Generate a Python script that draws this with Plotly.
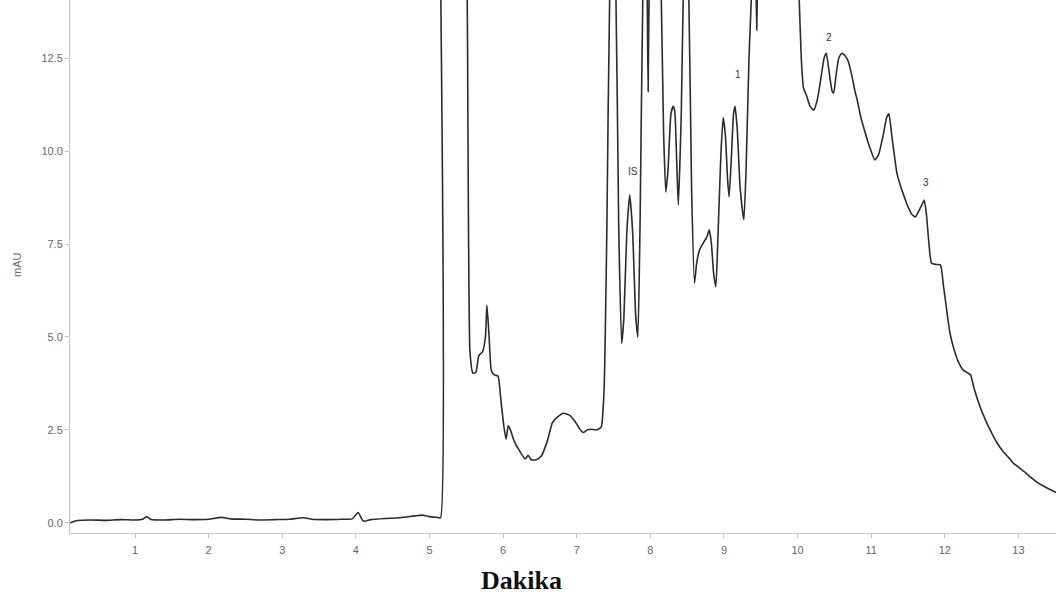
import plotly.graph_objects as go

# Retention time (minutes) and absorbance (mAU); values of 16 mark off-scale peak tops
time_min = [
    0.12, 0.2, 0.4, 0.6, 0.8, 1.0, 1.1, 1.16, 1.22, 1.4, 1.6, 1.8, 2.0, 2.18, 2.3, 2.5,
    2.7, 2.9, 3.1, 3.29, 3.4, 3.6, 3.8, 3.95, 4.03, 4.1, 4.2, 4.4, 4.6, 4.8, 4.9, 5.0,
    5.1, 5.15,
    5.152, 5.16, 5.48, 5.51, 5.55, 5.59, 5.63, 5.67, 5.72, 5.76, 5.78, 5.81, 5.84, 5.88, 5.93,
    5.97, 6.01, 6.04, 6.07, 6.10, 6.15, 6.22, 6.30, 6.34, 6.38, 6.45, 6.52, 6.60, 6.67,
    6.74, 6.82, 6.90, 6.97, 7.05, 7.09, 7.14, 7.20, 7.26, 7.33, 7.37, 7.41, 7.45, 7.49,
    7.53, 7.57, 7.61, 7.64, 7.68, 7.72, 7.76, 7.80, 7.83, 7.86, 7.90, 7.93, 7.955, 7.97,
    7.985, 8.02, 8.12, 8.145, 8.18, 8.21, 8.24, 8.28, 8.31, 8.33, 8.36, 8.38, 8.42, 8.45,
    8.485, 8.52, 8.56, 8.60, 8.63, 8.67, 8.72, 8.77, 8.80, 8.83, 8.86, 8.89, 8.92, 8.96,
    8.99, 9.02, 9.05, 9.07, 9.10, 9.13, 9.15, 9.18, 9.22, 9.27, 9.30, 9.34, 9.38, 9.41,
    9.435, 9.445, 9.455, 9.48, 9.98, 10.02, 10.05, 10.08, 10.12, 10.17, 10.22, 10.27,
    10.32, 10.36, 10.39, 10.43, 10.47, 10.49, 10.52, 10.56, 10.60, 10.65, 10.69, 10.74,
    10.78, 10.81, 10.86, 10.92, 10.98, 11.05, 11.10, 11.16, 11.21, 11.24, 11.28, 11.32,
    11.35, 11.40, 11.44, 11.50, 11.55, 11.60, 11.65, 11.70, 11.72, 11.75, 11.78, 11.82,
    11.88, 11.94, 11.98, 12.02, 12.07, 12.12, 12.18, 12.25, 12.30, 12.35, 12.40, 12.48,
    12.55, 12.62, 12.71, 12.80, 12.87, 12.93, 13.00, 13.08, 13.16, 13.25, 13.35, 13.43,
    13.51,
]
absorbance_mau = [
    0.0, 0.06, 0.08, 0.07, 0.09, 0.08, 0.10, 0.17, 0.09, 0.08, 0.10, 0.09, 0.10, 0.15, 0.11, 0.10,
    0.08, 0.09, 0.10, 0.14, 0.10, 0.09, 0.10, 0.11, 0.28, 0.05, 0.09, 0.12, 0.14, 0.19, 0.21, 0.17,
    0.15, 0.14,
    15, 16, 16, 14.5, 4.6, 4.03, 4.05, 4.5, 4.6, 5.0, 5.86, 5.0, 4.1, 3.98, 3.95,
    3.3, 2.6, 2.25, 2.62, 2.5, 2.2, 1.95, 1.72, 1.82, 1.7, 1.7, 1.8, 2.2, 2.7,
    2.85, 2.95, 2.9, 2.75, 2.5, 2.43, 2.5, 2.52, 2.5, 2.57, 3.5, 8, 14.5, 16,
    14.5, 8, 4.83, 5.5, 7.8, 8.82, 7.8, 5.6, 5.0, 8, 14.5, 16, 14.5, 11.6,
    14.5, 16, 16, 14.5, 10.5, 8.9, 9.5, 11.0, 11.2, 11.1, 9.6, 8.55, 11, 14.5,
    16, 14.5, 9, 6.45, 7.0, 7.35, 7.53, 7.7, 7.88, 7.5, 6.7, 6.35, 7.8, 10.0,
    10.9, 10.4, 9.2, 8.77, 9.8, 11.0, 11.2, 10.6, 9.0, 8.15, 9.5, 12.5, 14.5, 16,
    14.5, 13.25, 14.5, 16, 16, 14.2, 12.5, 11.7, 11.5, 11.2, 11.1, 11.4,
    12.0, 12.5, 12.63, 12.1, 11.6, 11.56, 12.0, 12.5, 12.63, 12.55, 12.4, 12.0,
    11.6, 11.37, 10.9, 10.48, 10.1, 9.76, 9.9, 10.4, 10.9, 11.0, 10.4, 9.8,
    9.4, 9.05, 8.82, 8.5, 8.3, 8.23, 8.4, 8.6, 8.68, 8.3, 7.6, 6.98,
    6.95, 6.94, 6.4, 5.8, 5.1, 4.7, 4.35, 4.11, 4.05, 3.98, 3.6, 3.12,
    2.78, 2.48, 2.15, 1.9, 1.75, 1.61, 1.5, 1.38, 1.24, 1.1, 0.98, 0.9,
    0.82,
]

# Peak labels
peak_labels = ["IS", "1", "2", "3"]
peak_times = [7.77, 9.19, 10.42, 11.74]
peak_label_y = [9.45, 12.05, 13.05, 9.15]

x_ticks = [1, 2, 3, 4, 5, 6, 7, 8, 9, 10, 11, 12, 13]
y_ticks = [0.0, 2.5, 5.0, 7.5, 10.0, 12.5]

fig = go.Figure()
fig.add_trace(go.Scatter(
    x=time_min, y=absorbance_mau, mode="lines",
    line=dict(color="#2b2b2b", width=1.6, shape="spline", smoothing=0.5),
    hoverinfo="skip", showlegend=False,
))

for lab, xt, yt in zip(peak_labels, peak_times, peak_label_y):
    fig.add_annotation(x=xt, y=yt, text=lab, showarrow=False,
                       xanchor="center", yanchor="middle",
                       font=dict(family="Liberation Sans, Arial", size=10, color="#333333"))

fig.add_annotation(xref="paper", yref="paper", x=0, y=0.503, xshift=-53,
                   xanchor="center", yanchor="middle",
                   text="mAU", textangle=-90, showarrow=False,
                   font=dict(family="Liberation Sans, Arial", size=11, color="#666666"))
fig.add_annotation(xref="paper", yref="paper", x=0.458, y=0, yshift=-47,
                   xanchor="center", yanchor="middle",
                   text="<b>Dakika</b>", showarrow=False,
                   font=dict(family="Liberation Serif, Times New Roman, serif", size=26, color="#111111"))

fig.update_layout(
    width=1056, height=601,
    margin=dict(l=70, r=0, t=0, b=68),
    paper_bgcolor="white", plot_bgcolor="white",
    xaxis=dict(range=[0.117, 13.51], tickvals=x_ticks, showgrid=False, zeroline=False,
               showline=True, linecolor="#c8c8c8", linewidth=1,
               ticks="outside", ticklen=4, tickcolor="#c8c8c8", ticklabelstandoff=3,
               tickfont=dict(family="Liberation Sans, Arial", size=11, color="#666666")),
    yaxis=dict(range=[-0.27, 14.06], tickvals=y_ticks, tickformat=".1f", showgrid=False,
               zeroline=False, showline=True, linecolor="#c8c8c8", linewidth=1,
               ticks="outside", ticklen=4, tickcolor="#c8c8c8",
               tickfont=dict(family="Liberation Sans, Arial", size=11, color="#666666")),
)

fig.write_html("out.html")
